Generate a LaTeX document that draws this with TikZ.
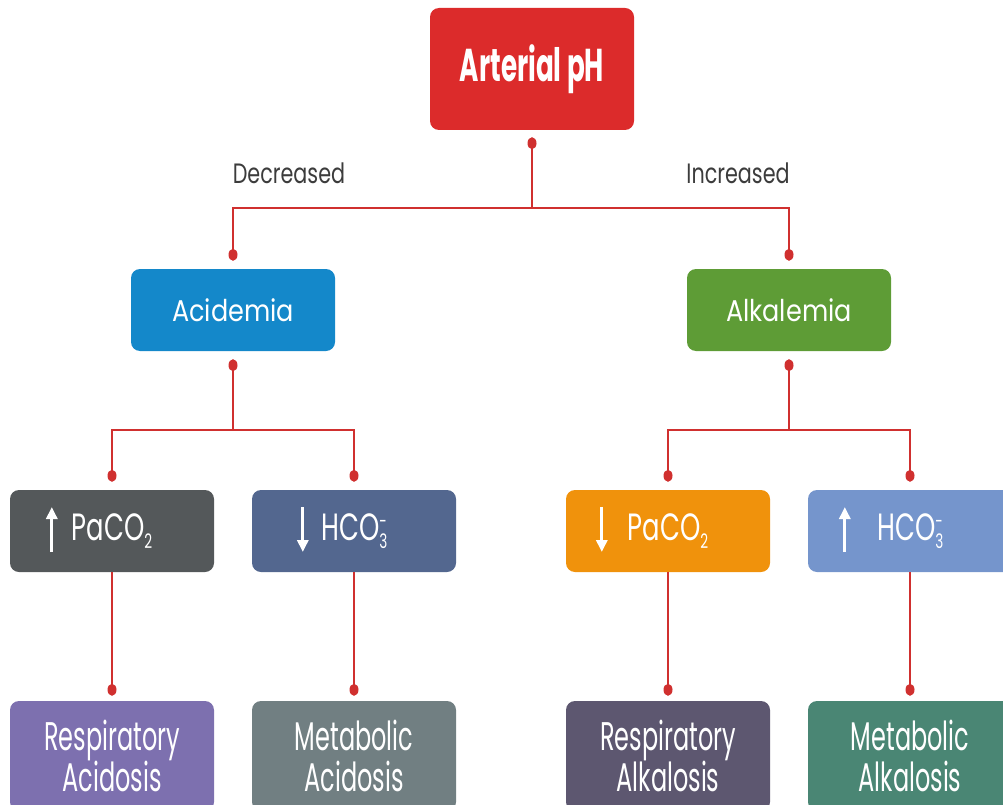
\documentclass[tikz,border=0pt]{standalone}
\usepackage{fontspec}
\setmainfont[FakeStretch=0.8]{Poppins}
\newfontfamily\titlefont[FakeStretch=0.57]{Poppins}
\newfontfamily\midfont[FakeStretch=0.85]{Poppins}
\newfontfamily\notefont[FakeStretch=0.74]{Poppins}
\newfontfamily\gasfont[FakeStretch=0.68]{Poppins}
\newfontfamily\endfont[FakeStretch=0.6]{Poppins}
\usetikzlibrary{arrows.meta}

\definecolor{linkred}{HTML}{D0302F}
\definecolor{phred}{HTML}{DC2B2B}
\definecolor{acidblue}{HTML}{1488CA}
\definecolor{alkgreen}{HTML}{5E9C36}
\definecolor{resgray}{HTML}{54585A}
\definecolor{metslate}{HTML}{53678F}
\definecolor{resorange}{HTML}{F0920C}
\definecolor{metblue}{HTML}{7595CC}
\definecolor{racidpurple}{HTML}{7D70AF}
\definecolor{macidgray}{HTML}{717F82}
\definecolor{ralkpurple}{HTML}{5D5770}
\definecolor{malkteal}{HTML}{4A8674}
\definecolor{notegray}{HTML}{3C3C3C}

\tikzset{
  box/.style={rounded corners=9pt, minimum width=204pt, minimum height=82pt,
    text=white, align=center, inner sep=0pt},
  endbox/.style={box, minimum height=110pt, font=\endfont\fontsize{40}{41}\selectfont},
  gasbox/.style={box, font=\gasfont\fontsize{38}{42}\selectfont},
  link/.style={draw=linkred, line width=1.8pt},
  note/.style={text=notegray, anchor=base, font=\notefont\fontsize{28}{32}\selectfont},
  vert/.style={white, line width=3pt, -{Triangle[width=11pt,length=12pt]}},
}
\newcommand{\lowsub}[1]{\raisebox{-8pt}{\fontsize{20}{20}\selectfont #1}}
\newcommand{\ionsub}[2]{\rlap{\lowsub{#1}}\raisebox{12pt}{\fontsize{20}{20}\selectfont #2}}

\begin{document}
\begin{tikzpicture}[x=1pt,y=-1pt]
\useasboundingbox (0,0) rectangle (1003,805);
\clip (0,0) rectangle (1003,805);

% top
\node[box, fill=phred, minimum height=122pt, font=\titlefont\fontsize{46}{50}\selectfont\bfseries] (ph) at (532,69) {Arterial pH};
\node[note] (dec) at (289,183) {Decreased};
\node[note] (inc) at (738,183) {Increased};

% second row
\node[box, fill=acidblue, font=\midfont\fontsize{30}{34}\selectfont] (acid) at (233,310) {Acidemia};
\node[box, fill=alkgreen, font=\midfont\fontsize{30}{34}\selectfont] (alk) at (789,310) {Alkalemia};

% third row
\node[gasbox, fill=resgray] (ac-p) at (112,531) {PaCO\lowsub{2}};
\node[gasbox, fill=metslate] (ac-h) at (354,531) {HCO\ionsub{3}{-}};
\node[gasbox, fill=resorange] (al-p) at (668,531) {PaCO\lowsub{2}};
\node[gasbox, fill=metblue] (al-h) at (910,531) {HCO\ionsub{3}{-}};

% bottom row
\node[endbox, fill=racidpurple] (r-acid) at (112,756) {Respiratory\\Acidosis};
\node[endbox, fill=macidgray] (m-acid) at (354,756) {Metabolic\\Acidosis};
\node[endbox, fill=ralkpurple] (r-alk) at (668,756) {Respiratory\\Alkalosis};
\node[endbox, fill=malkteal] (m-alk) at (910,756) {Metabolic\\Alkalosis};

% arrows in the boxes
\draw[vert] ([xshift=42pt,yshift=-21pt]ac-p.west) -- ++(0,-45);
\draw[vert] ([xshift=51pt,yshift=24pt]ac-h.west) -- ++(0,45);
\draw[vert] ([xshift=36pt,yshift=24pt]al-p.west) -- ++(0,45);
\draw[vert] ([xshift=37pt,yshift=-21pt]al-h.west) -- ++(0,-45);

% dots
\coordinate (ph-out) at ([yshift=-13pt]ph.south);
\foreach \n in {acid,alk,ac-p,ac-h,al-p,al-h} {
  \coordinate (\n-in) at ([yshift=14pt]\n.north);
}
\foreach \n in {acid,alk} {
  \coordinate (\n-out) at ([yshift=-14pt]\n.south);
}
\foreach \n in {r-acid,m-acid,r-alk,m-alk} {
  \coordinate (\n-in) at ([yshift=11pt]\n.north);
}

% connectors
\draw[link] (ph-out) -- ++(0,65) -| (acid-in);
\draw[link] (ph-out) -- ++(0,65) -| (alk-in);
\draw[link] (acid-out) -- ++(0,65) -| (ac-p-in);
\draw[link] (acid-out) -- ++(0,65) -| (ac-h-in);
\draw[link] (alk-out) -- ++(0,65) -| (al-p-in);
\draw[link] (alk-out) -- ++(0,65) -| (al-h-in);
\draw[link] (ac-p.south) -- (r-acid-in);
\draw[link] (ac-h.south) -- (m-acid-in);
\draw[link] (al-p.south) -- (r-alk-in);
\draw[link] (al-h.south) -- (m-alk-in);

\foreach \d in {ph-out,acid-in,alk-in,acid-out,alk-out,ac-p-in,ac-h-in,al-p-in,al-h-in,r-acid-in,m-acid-in,r-alk-in,m-alk-in}
  \fill[linkred] (\d) ellipse (4.5 and 6);

\end{tikzpicture}
\end{document}
